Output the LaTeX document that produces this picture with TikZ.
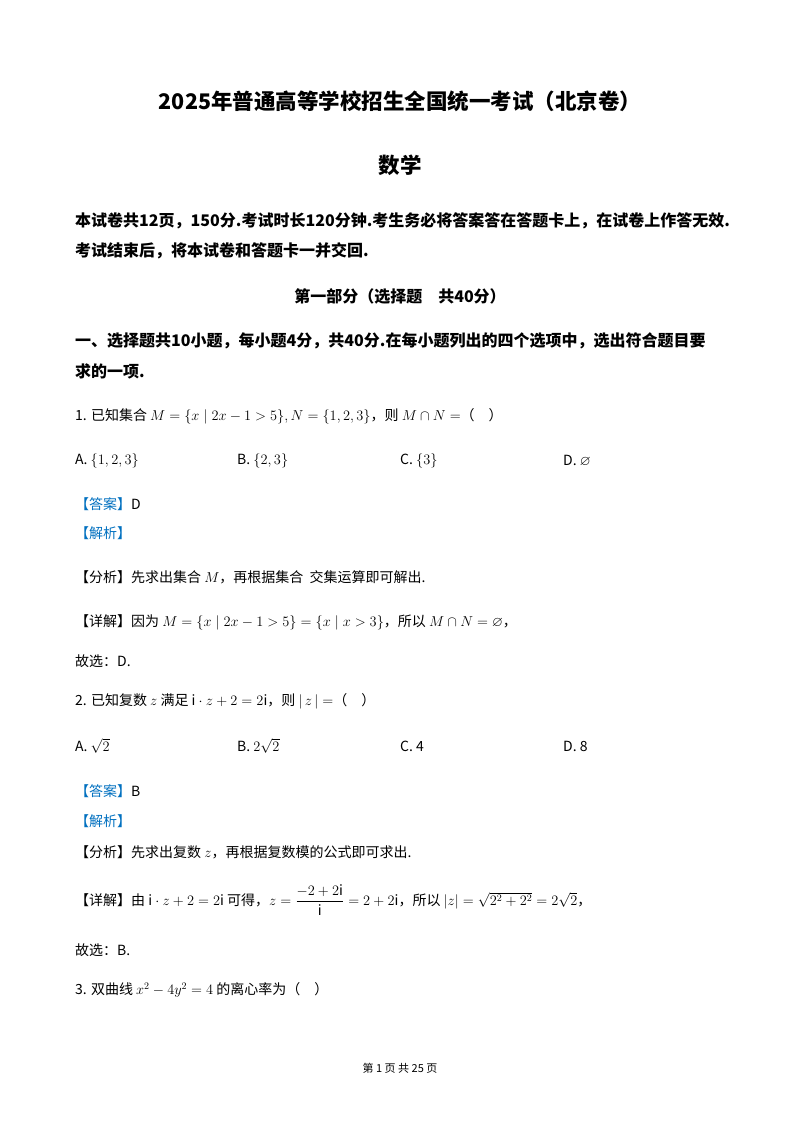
\documentclass[tikz,border=0pt]{standalone}
\usepackage{amsmath,amssymb}
\usepackage{fontspec}
\setmainfont{Noto Sans CJK SC}
\definecolor{ansblue}{RGB}{0,112,192}
\begin{document}
\begin{tikzpicture}[x=1pt,y=-1pt,
  t/.style={anchor=west,inner sep=0pt,font=\fontsize{14}{16}\selectfont},
  b/.style={anchor=west,inner sep=0pt,font=\fontsize{16}{18}\selectfont\bfseries},
  c/.style={anchor=center,inner sep=0pt}]
\useasboundingbox[fill=white] (0,0) rectangle (800,1132);
\node[c,font=\fontsize{21.5}{24}\selectfont\bfseries] (title) at (400,101) {2025年普通高等学校招生全国统一考试（北京卷）};
\node[c,font=\fontsize{21.5}{24}\selectfont\bfseries] (sub) at (400,165) {数学};
\node[b] (l1) at (75,221) {本试卷共12页，150分.考试时长120分钟.考生务必将答案答在答题卡上，在试卷上作答无效.};
\node[b] (l2) at (75,251) {考试结束后，将本试卷和答题卡一并交回.};
\node[c,font=\fontsize{16}{18}\selectfont\bfseries] (part) at (400,296) {第一部分（选择题\quad 共40分）};
\node[b] (l3) at (75,341) {一、选择题共10小题，每小题4分，共40分.在每小题列出的四个选项中，选出符合题目要};
\node[b] (l4) at (75,371) {求的一项.};
\node[t] (q1) at (75,416) {1. 已知集合 $M=\{x\mid 2x-1>5\},N=\{1,2,3\}$，则 $M\cap N=$（\quad ）};
\node[t] (a1) at (75,461) {A. $\{1,2,3\}$};
\node[t] (b1) at (237,461) {B. $\{2,3\}$};
\node[t] (c1) at (400,461) {C. $\{3\}$};
\node[t] (d1) at (563,461) {D. $\varnothing$};
\node[t] (ans1) at (75,504) {\textcolor{ansblue}{【答案】}D};
\node[t] (jx1) at (75,533) {\textcolor{ansblue}{【解析】}};
\node[t] (fx1) at (75,577) {【分析】先求出集合 $M$，再根据集合\ \ 交集运算即可解出.};
\node[t] (xj1) at (75,622) {【详解】因为 $M=\left\{x\mid 2x-1>5\right\}=\left\{x\mid x>3\right\}$，所以 $M\cap N=\varnothing$，};
\node[t] (gx1) at (75,661) {故选：D.};
\node[t] (q2) at (75,701) {2. 已知复数 $z$ 满足 $\mathrm{i}\cdot z+2=2\mathrm{i}$，则 $|\,z\,|=$（\quad ）};
\node[t] (a2) at (75,746) {A. $\sqrt{2}$};
\node[t] (b2) at (237,746) {B. $2\sqrt{2}$};
\node[t] (c2) at (400,746) {C. 4};
\node[t] (d2) at (563,746) {D. 8};
\node[t] (ans2) at (75,791) {\textcolor{ansblue}{【答案】}B};
\node[t] (jx2) at (75,821) {\textcolor{ansblue}{【解析】}};
\node[t] (fx2) at (75,852) {【分析】先求出复数 $z$，再根据复数模的公式即可求出.};
\node[t] (xj2) at (75,900) {【详解】由 $\mathrm{i}\cdot z+2=2\mathrm{i}$ 可得，$z=\dfrac{-2+2\mathrm{i}}{\mathrm{i}}=2+2\mathrm{i}$，所以 $|z|=\sqrt{2^2+2^2}=2\sqrt{2}$，};
\node[t] (gx2) at (75,950) {故选：B.};
\node[t] (q3) at (75,990) {3. 双曲线 $x^2-4y^2=4$ 的离心率为（\quad ）};
\node[c,font=\fontsize{11}{13}\selectfont] (foot) at (400,1068) {第 1 页 共 25 页};
\end{tikzpicture}
\end{document}
